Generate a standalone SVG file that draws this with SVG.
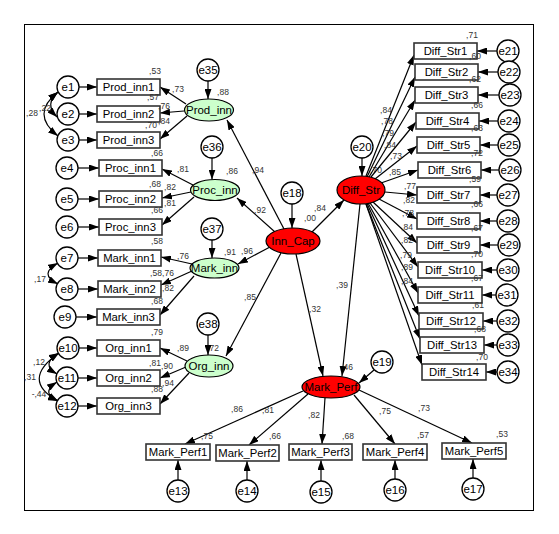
<svg xmlns="http://www.w3.org/2000/svg" width="559" height="534" viewBox="0 0 559 534">
<defs>
<marker id="ah" viewBox="0 0 10 7" refX="10" refY="3.5" markerWidth="10" markerHeight="7" markerUnits="userSpaceOnUse" orient="auto-start-reverse"><path d="M0,0 L10,3.5 L0,7 z" fill="#000"/></marker>
</defs>
<style>
.box{fill:#fff;stroke:#333;stroke-width:1.6}
.err{fill:#fff;stroke:#000;stroke-width:1.3}
.lg{fill:#ccffcc;stroke:#000;stroke-width:1.2}
.lr{fill:#ff0000;stroke:#000;stroke-width:1.2}
#connectors line,#connectors path{stroke:#000;stroke-width:1.2;fill:none;marker-end:url(#ah)}
#connectors path.cov{marker-start:url(#ah)}
text{font-family:"Liberation Sans",Arial,sans-serif;text-anchor:middle;fill:#000}
.n{font-size:11.3px}
.e{font-size:11.5px}
.l{font-size:11.5px}
.v{font-size:8.5px;fill:#333}
</style>
<rect x="0" y="0" width="559" height="534" fill="#fff"/>
<rect x="24.5" y="24.5" width="509" height="486" fill="none" stroke="#000" stroke-width="1"/>

<g id="hidden-labels">
<text class="v" x="213" y="351">,72</text>
<text class="v" x="347" y="370">,46</text>
<text class="v" x="376" y="173">,70</text>
</g>

<g id="connectors">
<line x1="79" y1="87" x2="97" y2="87"/>
<line x1="79" y1="114" x2="97" y2="114"/>
<line x1="79" y1="140" x2="97" y2="140"/>
<line x1="78" y1="168" x2="99" y2="168"/>
<line x1="78" y1="199" x2="99" y2="199"/>
<line x1="78" y1="227" x2="99" y2="227"/>
<line x1="78" y1="258" x2="98" y2="258"/>
<line x1="78" y1="289" x2="98" y2="289"/>
<line x1="76" y1="317" x2="97" y2="317"/>
<line x1="79" y1="348" x2="97" y2="348"/>
<line x1="78" y1="378" x2="97" y2="378"/>
<line x1="78" y1="406" x2="97" y2="406"/>
<path class="cov" d="M58,92 Q44,104 57,117"/>
<path class="cov" d="M58,92 Q30,114 58,136"/>
<path class="cov" d="M58,263 Q38,274 58,284"/>
<path class="cov" d="M59,353 Q40,364 57,374"/>
<path class="cov" d="M59,353 Q20,380 58,401"/>
<path class="cov" d="M57,382 Q40,393 58,401"/>
<line x1="186" y1="104" x2="160" y2="87"/>
<line x1="184" y1="111" x2="160" y2="113"/>
<line x1="187" y1="116" x2="160" y2="139"/>
<line x1="193" y1="185" x2="162" y2="169"/>
<line x1="191" y1="192" x2="162" y2="198"/>
<line x1="194" y1="197" x2="162" y2="225"/>
<line x1="192" y1="264" x2="161" y2="257"/>
<line x1="192" y1="271" x2="161" y2="285"/>
<line x1="194" y1="276" x2="160" y2="315"/>
<line x1="187" y1="361" x2="160" y2="348"/>
<line x1="186" y1="367" x2="160" y2="378"/>
<line x1="189" y1="373" x2="160" y2="404"/>
<line x1="208" y1="81" x2="208" y2="99"/>
<line x1="212" y1="158" x2="212" y2="179.5"/>
<line x1="212" y1="240" x2="212" y2="258"/>
<line x1="208" y1="335" x2="208" y2="355"/>
<line x1="292" y1="204" x2="292" y2="228"/>
<line x1="362" y1="158" x2="362" y2="176"/>
<line x1="374" y1="370" x2="359" y2="383"/>
<line x1="284" y1="229" x2="227" y2="120"/>
<line x1="275" y1="232" x2="237" y2="198"/>
<line x1="270" y1="247" x2="238" y2="264"/>
<line x1="281" y1="253" x2="226" y2="356"/>
<line x1="312" y1="232" x2="344" y2="200"/>
<line x1="296" y1="254" x2="323" y2="376"/>
<line x1="360" y1="204" x2="342" y2="376"/>
<line x1="303" y1="391" x2="185" y2="444"/>
<line x1="308" y1="394" x2="249" y2="445"/>
<line x1="325" y1="398" x2="322" y2="444"/>
<line x1="354" y1="395" x2="395" y2="444"/>
<line x1="359" y1="390" x2="472" y2="443"/>
<line x1="178" y1="480" x2="178" y2="460"/>
<line x1="247" y1="480" x2="247" y2="461"/>
<line x1="321" y1="481" x2="321" y2="460"/>
<line x1="395" y1="479" x2="395" y2="460"/>
<line x1="473" y1="478" x2="473" y2="459"/>
<line x1="366" y1="176" x2="414" y2="55"/>
<line x1="367" y1="177" x2="415" y2="77"/>
<line x1="369" y1="177" x2="415" y2="100"/>
<line x1="371" y1="177" x2="416" y2="122"/>
<line x1="375" y1="179" x2="417" y2="146"/>
<line x1="381" y1="183" x2="418" y2="170"/>
<line x1="385" y1="192" x2="417" y2="195"/>
<line x1="379" y1="199" x2="417" y2="219"/>
<line x1="373" y1="202" x2="417" y2="243"/>
<line x1="370" y1="203" x2="418" y2="267"/>
<line x1="368" y1="203" x2="418" y2="293"/>
<line x1="367" y1="203.5" x2="419" y2="316"/>
<line x1="366" y1="204" x2="420" y2="339"/>
<line x1="366" y1="204" x2="422" y2="365"/>
<line x1="497" y1="51" x2="477" y2="51"/>
<line x1="498" y1="72" x2="478" y2="72"/>
<line x1="499" y1="95" x2="478" y2="95"/>
<line x1="498" y1="121" x2="479" y2="121"/>
<line x1="498" y1="145" x2="480" y2="145"/>
<line x1="499" y1="170" x2="481" y2="170"/>
<line x1="497" y1="195" x2="480" y2="195"/>
<line x1="497" y1="221" x2="480" y2="221"/>
<line x1="498" y1="245" x2="480" y2="245"/>
<line x1="497" y1="270" x2="482" y2="270"/>
<line x1="496" y1="295" x2="482" y2="295"/>
<line x1="497" y1="321" x2="483" y2="321"/>
<line x1="497" y1="345" x2="484" y2="345"/>
<line x1="497" y1="372" x2="486" y2="372"/>
</g>

<g id="Prod_inn1"><rect class="box" x="97" y="79" width="63" height="16"/><text class="n" x="128.5" y="91">Prod_inn1</text></g>
<g id="Prod_inn2"><rect class="box" x="97" y="106" width="63" height="16"/><text class="n" x="128.5" y="118">Prod_inn2</text></g>
<g id="Prod_inn3"><rect class="box" x="97" y="132" width="63" height="16"/><text class="n" x="128.5" y="144">Prod_inn3</text></g>
<g id="Proc_inn1"><rect class="box" x="99" y="160" width="63" height="16"/><text class="n" x="130.5" y="172">Proc_inn1</text></g>
<g id="Proc_inn2"><rect class="box" x="99" y="191" width="63" height="16"/><text class="n" x="130.5" y="203">Proc_inn2</text></g>
<g id="Proc_inn3"><rect class="box" x="99" y="219" width="63" height="16"/><text class="n" x="130.5" y="231">Proc_inn3</text></g>
<g id="Mark_inn1"><rect class="box" x="98" y="250" width="63" height="16"/><text class="n" x="129.5" y="262">Mark_inn1</text></g>
<g id="Mark_inn2"><rect class="box" x="98" y="281" width="63" height="16"/><text class="n" x="129.5" y="293">Mark_inn2</text></g>
<g id="Mark_inn3"><rect class="box" x="97" y="309" width="63" height="16"/><text class="n" x="128.5" y="321">Mark_inn3</text></g>
<g id="Org_inn1"><rect class="box" x="97" y="340" width="63" height="16"/><text class="n" x="128.5" y="352">Org_inn1</text></g>
<g id="Org_inn2"><rect class="box" x="97" y="370" width="63" height="16"/><text class="n" x="128.5" y="382">Org_inn2</text></g>
<g id="Org_inn3"><rect class="box" x="97" y="398" width="63" height="16"/><text class="n" x="128.5" y="410">Org_inn3</text></g>

<g id="Mark_Perf1"><rect class="box" x="146" y="444" width="64" height="16"/><text class="n" x="178" y="456">Mark_Perf1</text></g>
<g id="Mark_Perf2"><rect class="box" x="216" y="445" width="63" height="16"/><text class="n" x="247.5" y="457">Mark_Perf2</text></g>
<g id="Mark_Perf3"><rect class="box" x="289" y="444" width="63" height="16"/><text class="n" x="320.5" y="456">Mark_Perf3</text></g>
<g id="Mark_Perf4"><rect class="box" x="363" y="444" width="64" height="16"/><text class="n" x="395" y="456">Mark_Perf4</text></g>
<g id="Mark_Perf5"><rect class="box" x="442" y="443" width="64" height="16"/><text class="n" x="474" y="455">Mark_Perf5</text></g>

<g id="Diff_Str1"><rect class="box" x="414" y="43" width="63" height="16"/><text class="n" x="445.5" y="55">Diff_Str1</text></g>
<g id="Diff_Str2"><rect class="box" x="415" y="64" width="63" height="16"/><text class="n" x="446.5" y="76">Diff_Str2</text></g>
<g id="Diff_Str3"><rect class="box" x="415" y="87" width="63" height="16"/><text class="n" x="446.5" y="99">Diff_Str3</text></g>
<g id="Diff_Str4"><rect class="box" x="416" y="113" width="63" height="16"/><text class="n" x="447.5" y="125">Diff_Str4</text></g>
<g id="Diff_Str5"><rect class="box" x="417" y="137" width="63" height="16"/><text class="n" x="448.5" y="149">Diff_Str5</text></g>
<g id="Diff_Str6"><rect class="box" x="418" y="162" width="63" height="16"/><text class="n" x="449.5" y="174">Diff_Str6</text></g>
<g id="Diff_Str7"><rect class="box" x="417" y="187" width="63" height="16"/><text class="n" x="448.5" y="199">Diff_Str7</text></g>
<g id="Diff_Str8"><rect class="box" x="417" y="213" width="63" height="16"/><text class="n" x="448.5" y="225">Diff_Str8</text></g>
<g id="Diff_Str9"><rect class="box" x="417" y="237" width="63" height="16"/><text class="n" x="448.5" y="249">Diff_Str9</text></g>
<g id="Diff_Str10"><rect class="box" x="418" y="262" width="64" height="16"/><text class="n" x="450" y="274">Diff_Str10</text></g>
<g id="Diff_Str11"><rect class="box" x="418" y="287" width="64" height="16"/><text class="n" x="450" y="299">Diff_Str11</text></g>
<g id="Diff_Str12"><rect class="box" x="419" y="313" width="64" height="16"/><text class="n" x="451" y="325">Diff_Str12</text></g>
<g id="Diff_Str13"><rect class="box" x="420" y="337" width="64" height="16"/><text class="n" x="452" y="349">Diff_Str13</text></g>
<g id="Diff_Str14"><rect class="box" x="422" y="364" width="64" height="16"/><text class="n" x="454" y="376">Diff_Str14</text></g>

<g id="Prod_inn"><ellipse class="lg" cx="209" cy="110" rx="24.5" ry="11"/><text class="l" x="209" y="114">Prod_inn</text></g>
<g id="Proc_inn"><ellipse class="lg" cx="215" cy="190" rx="24.5" ry="10.5"/><text class="l" x="215" y="194">Proc_inn</text></g>
<g id="Mark_inn"><ellipse class="lg" cx="214.5" cy="268" rx="24.5" ry="10"/><text class="l" x="214.5" y="272">Mark_inn</text></g>
<g id="Org_inn"><ellipse class="lg" cx="209" cy="366" rx="24" ry="11"/><text class="l" x="209" y="370">Org_inn</text></g>
<g id="Inn_Cap"><ellipse class="lr" cx="293" cy="241" rx="27" ry="13"/><text class="l" x="293" y="245">Inn_Cap</text></g>
<g id="Diff_Str"><ellipse class="lr" cx="361" cy="190" rx="24" ry="14"/><text class="l" x="361" y="194">Diff_Str</text></g>
<g id="Mark_Perf"><ellipse class="lr" cx="331" cy="387" rx="29" ry="11"/><text class="l" x="331" y="391">Mark_Perf</text></g>

<g id="e1"><circle class="err" cx="68" cy="87" r="11"/><text class="e" x="68" y="91">e1</text></g>
<g id="e2"><circle class="err" cx="68" cy="114" r="11"/><text class="e" x="68" y="118">e2</text></g>
<g id="e3"><circle class="err" cx="68" cy="140" r="11"/><text class="e" x="68" y="144">e3</text></g>
<g id="e4"><circle class="err" cx="67" cy="168" r="11"/><text class="e" x="67" y="172">e4</text></g>
<g id="e5"><circle class="err" cx="67" cy="199" r="11"/><text class="e" x="67" y="203">e5</text></g>
<g id="e6"><circle class="err" cx="67" cy="227" r="11"/><text class="e" x="67" y="231">e6</text></g>
<g id="e7"><circle class="err" cx="67" cy="258" r="11"/><text class="e" x="67" y="262">e7</text></g>
<g id="e8"><circle class="err" cx="67" cy="289" r="11"/><text class="e" x="67" y="293">e8</text></g>
<g id="e9"><circle class="err" cx="65" cy="317" r="11"/><text class="e" x="65" y="321">e9</text></g>
<g id="e10"><circle class="err" cx="68" cy="348" r="11"/><text class="e" x="68" y="352">e10</text></g>
<g id="e11"><circle class="err" cx="67" cy="378" r="11"/><text class="e" x="67" y="382">e11</text></g>
<g id="e12"><circle class="err" cx="67" cy="406" r="11"/><text class="e" x="67" y="410">e12</text></g>
<g id="e13"><circle class="err" cx="178" cy="491" r="11"/><text class="e" x="178" y="495">e13</text></g>
<g id="e14"><circle class="err" cx="247" cy="491" r="11"/><text class="e" x="247" y="495">e14</text></g>
<g id="e15"><circle class="err" cx="321" cy="492" r="11"/><text class="e" x="321" y="496">e15</text></g>
<g id="e16"><circle class="err" cx="395" cy="490" r="11"/><text class="e" x="395" y="494">e16</text></g>
<g id="e17"><circle class="err" cx="473" cy="489" r="11"/><text class="e" x="473" y="493">e17</text></g>
<g id="e18"><circle class="err" cx="292" cy="193" r="11"/><text class="e" x="292" y="197">e18</text></g>
<g id="e19"><circle class="err" cx="382" cy="362" r="11"/><text class="e" x="382" y="366">e19</text></g>
<g id="e20"><circle class="err" cx="362" cy="147" r="11"/><text class="e" x="362" y="151">e20</text></g>
<g id="e21"><circle class="err" cx="508" cy="51" r="11"/><text class="e" x="508" y="55">e21</text></g>
<g id="e22"><circle class="err" cx="509" cy="72" r="11"/><text class="e" x="509" y="76">e22</text></g>
<g id="e23"><circle class="err" cx="510" cy="95" r="11"/><text class="e" x="510" y="99">e23</text></g>
<g id="e24"><circle class="err" cx="509" cy="121" r="11"/><text class="e" x="509" y="125">e24</text></g>
<g id="e25"><circle class="err" cx="509" cy="145" r="11"/><text class="e" x="509" y="149">e25</text></g>
<g id="e26"><circle class="err" cx="510" cy="170" r="11"/><text class="e" x="510" y="174">e26</text></g>
<g id="e27"><circle class="err" cx="508" cy="195" r="11"/><text class="e" x="508" y="199">e27</text></g>
<g id="e28"><circle class="err" cx="508" cy="221" r="11"/><text class="e" x="508" y="225">e28</text></g>
<g id="e29"><circle class="err" cx="509" cy="245" r="11"/><text class="e" x="509" y="249">e29</text></g>
<g id="e30"><circle class="err" cx="508" cy="270" r="11"/><text class="e" x="508" y="274">e30</text></g>
<g id="e31"><circle class="err" cx="507" cy="295" r="11"/><text class="e" x="507" y="299">e31</text></g>
<g id="e32"><circle class="err" cx="508" cy="321" r="11"/><text class="e" x="508" y="325">e32</text></g>
<g id="e33"><circle class="err" cx="508" cy="345" r="11"/><text class="e" x="508" y="349">e33</text></g>
<g id="e34"><circle class="err" cx="508" cy="372" r="11"/><text class="e" x="508" y="376">e34</text></g>
<g id="e35"><circle class="err" cx="208" cy="70" r="11"/><text class="e" x="208" y="74">e35</text></g>
<g id="e36"><circle class="err" cx="212" cy="147" r="11"/><text class="e" x="212" y="151">e36</text></g>
<g id="e37"><circle class="err" cx="212" cy="229" r="11"/><text class="e" x="212" y="233">e37</text></g>
<g id="e38"><circle class="err" cx="208" cy="324" r="11"/><text class="e" x="208" y="328">e38</text></g>

<g id="labels">
<text class="v" x="155" y="74">,53</text>
<text class="v" x="178" y="92">,73</text>
<text class="v" x="223" y="95">,88</text>
<text class="v" x="153" y="100">,57</text>
<text class="v" x="164" y="109">,76</text>
<text class="v" x="32" y="116">,28</text>
<text class="v" x="45" y="111">,22</text>
<text class="v" x="151" y="128">,70</text>
<text class="v" x="164" y="124">,84</text>
<text class="v" x="157" y="156">,66</text>
<text class="v" x="183" y="172">,81</text>
<text class="v" x="232" y="174">,86</text>
<text class="v" x="155" y="187">,68</text>
<text class="v" x="170" y="190">,82</text>
<text class="v" x="170" y="206">,81</text>
<text class="v" x="157" y="213">,66</text>
<text class="v" x="157" y="244">,58</text>
<text class="v" x="183" y="259">,76</text>
<text class="v" x="230" y="255">,91</text>
<text class="v" x="247" y="254">,96</text>
<text class="v" x="156" y="276">,58</text>
<text class="v" x="168" y="276">,76</text>
<text class="v" x="168" y="291">,82</text>
<text class="v" x="40" y="282">,17</text>
<text class="v" x="250" y="300">,85</text>
<text class="v" x="157" y="304">,68</text>
<text class="v" x="157" y="335">,79</text>
<text class="v" x="183" y="351">,89</text>
<text class="v" x="155" y="366">,81</text>
<text class="v" x="167" y="369">,90</text>
<text class="v" x="39" y="365">,12</text>
<text class="v" x="30" y="380">,31</text>
<text class="v" x="168" y="386">,94</text>
<text class="v" x="39" y="397">-,44</text>
<text class="v" x="157" y="392">,88</text>
<text class="v" x="258" y="173">,94</text>
<text class="v" x="260" y="213">,92</text>
<text class="v" x="310" y="221">,00</text>
<text class="v" x="320" y="211">,84</text>
<text class="v" x="342" y="288">,39</text>
<text class="v" x="315" y="312">,32</text>
<text class="v" x="237" y="412">,86</text>
<text class="v" x="268" y="413">,81</text>
<text class="v" x="314" y="418">,82</text>
<text class="v" x="385" y="414">,75</text>
<text class="v" x="424" y="411">,73</text>
<text class="v" x="207" y="439">,75</text>
<text class="v" x="275" y="439">,66</text>
<text class="v" x="348" y="439">,68</text>
<text class="v" x="423" y="438">,57</text>
<text class="v" x="502" y="437">,53</text>
<text class="v" x="472" y="38">,71</text>
<text class="v" x="475" y="59">,60</text>
<text class="v" x="475" y="82">,62</text>
<text class="v" x="477" y="108">,66</text>
<text class="v" x="477" y="131">,63</text>
<text class="v" x="477" y="156">,72</text>
<text class="v" x="475" y="182">,59</text>
<text class="v" x="477" y="207">,66</text>
<text class="v" x="477" y="231">,67</text>
<text class="v" x="477" y="257">,70</text>
<text class="v" x="477" y="281">,67</text>
<text class="v" x="478" y="308">,61</text>
<text class="v" x="480" y="332">,68</text>
<text class="v" x="482" y="360">,70</text>
<text class="v" x="386" y="113">,84</text>
<text class="v" x="387" y="124">,78</text>
<text class="v" x="388" y="136">,79</text>
<text class="v" x="390" y="148">,84</text>
<text class="v" x="396" y="159">,73</text>
<text class="v" x="395" y="175">,85</text>
<text class="v" x="410" y="189">,77</text>
<text class="v" x="409" y="203">,82</text>
<text class="v" x="408" y="216">,78</text>
<text class="v" x="407" y="230">,84</text>
<text class="v" x="407" y="243">,82</text>
<text class="v" x="406" y="258">,79</text>
<text class="v" x="407" y="270">,89</text>
<text class="v" x="407" y="284">,84</text>
</g>
</svg>
